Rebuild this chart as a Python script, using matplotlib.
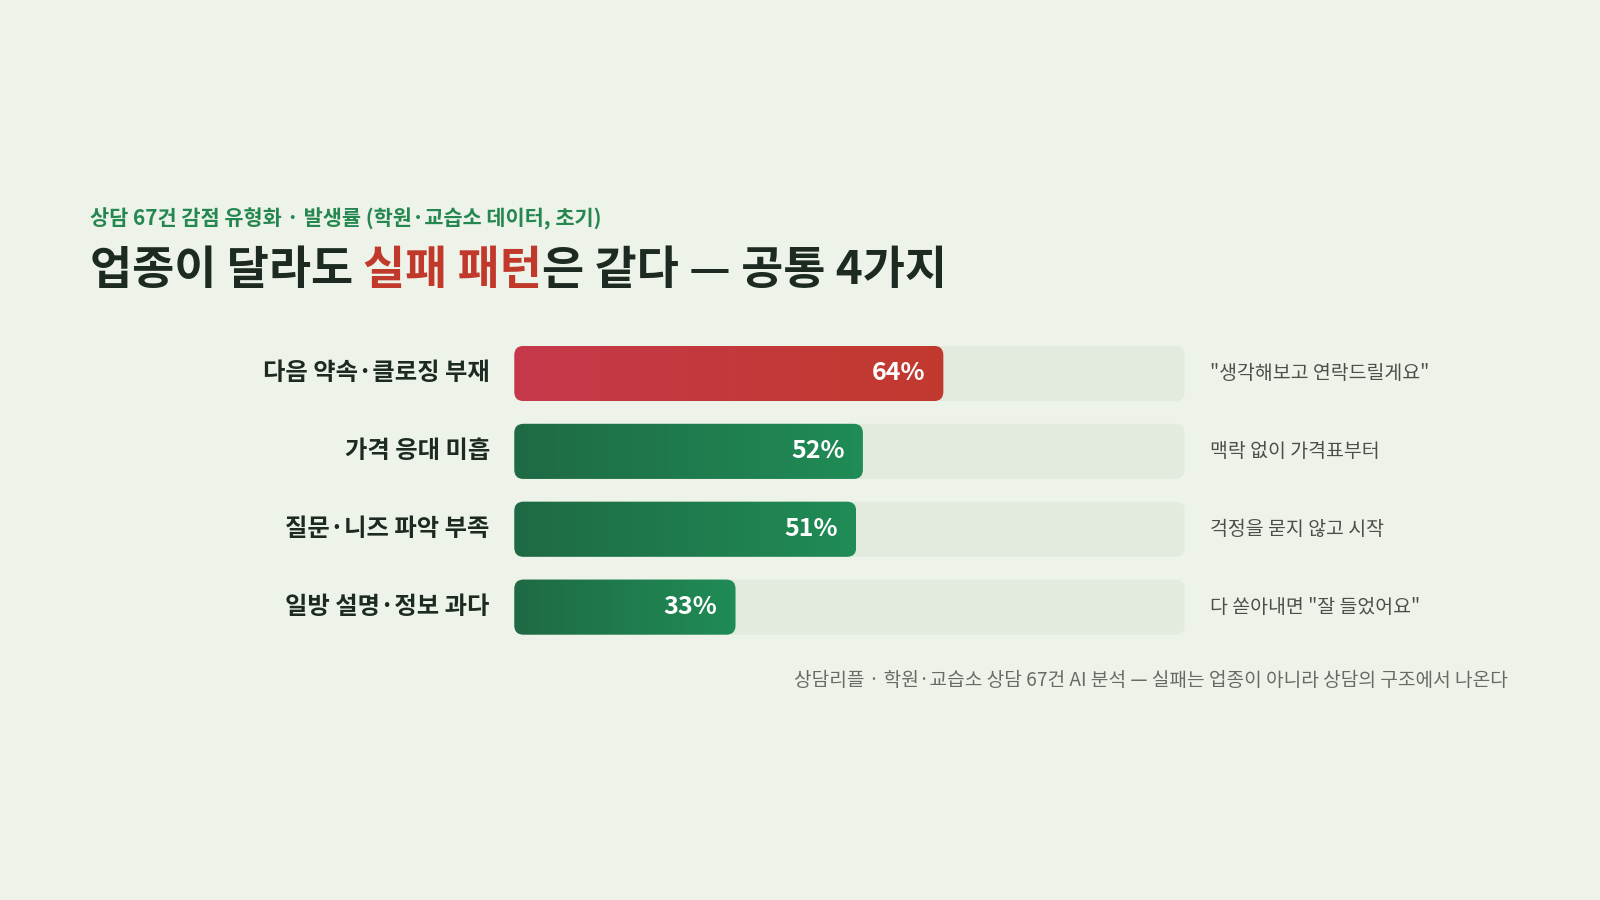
import numpy as np
import matplotlib.pyplot as plt
from matplotlib.patches import FancyBboxPatch
from matplotlib.colors import LinearSegmentedColormap

plt.rcParams['font.family'] = ['Noto Sans CJK KR', 'DejaVu Sans']

labels = ['다음 약속·클로징 부재', '가격 응대 미흡', '질문·니즈 파악 부족', '일방 설명·정보 과다']
values = [64, 52, 51, 33]
quotes = ['"생각해보고 연락드릴게요"', '맥락 없이 가격표부터', '걱정을 묻지 않고 시작', '다 쏟아내면 "잘 들었어요"']

bg = '#eef3ea'
W, H = 1568, 882
fig = plt.figure(figsize=(16, 9), dpi=100, facecolor=bg)

def fx(px): return px / W
def fy(py): return 1 - py / H

# header
fig.text(fx(88), fy(214), '상담 67건 감점 유형화 · 발생률 (학원·교습소 데이터, 초기)',
         color='#24874f', fontsize=15, fontweight='bold', va='center')
parts = [('업종이 달라도 ', '#1c2a22'), ('실패 패턴', '#c0392b'), ('은 같다 — 공통 4가지', '#1c2a22')]
fig.canvas.draw()
r = fig.canvas.get_renderer()
x = fx(88)
for s, c in parts:
    t = fig.text(x, fy(266), s, color=c, fontsize=33, fontweight='bold', va='center')
    bb = t.get_window_extent(r)
    x += bb.width / fig.bbox.width

# bars
x0, x1, ytop, ybot = 504, 1161, 339, 622
ax = fig.add_axes([fx(x0), fy(ybot), fx(x1 - x0), (ybot - ytop) / H])
ax.set_xlim(0, 100)
n = len(values)
bh = 0.708
ax.set_ylim(n - 1 + bh / 2, -bh / 2)
ax.axis('off')
xu = 100 / (x1 - x0)
yu = (n - 1 + bh) / (ybot - ytop)
rad = 9 * xu
asp = yu / xu

red = LinearSegmentedColormap.from_list('r', ['#c6384b', '#c13a2e'])
green = LinearSegmentedColormap.from_list('g', ['#1e6a44', '#208c56'])
grad = np.linspace(0, 1, 256).reshape(1, -1)

for i, (lab, v, q) in enumerate(zip(labels, values, quotes)):
    track = FancyBboxPatch((0, i - bh / 2), 100, bh, boxstyle=f'round,pad=0,rounding_size={rad}',
                           mutation_aspect=asp, fc='#e3ebdf', ec='none')
    ax.add_patch(track)
    bar = FancyBboxPatch((0, i - bh / 2), v, bh, boxstyle=f'round,pad=0,rounding_size={rad}',
                         mutation_aspect=asp, fc='none', ec='none')
    ax.add_patch(bar)
    im = ax.imshow(grad, cmap=red if i == 0 else green, aspect='auto',
                   extent=(0, v, i + bh / 2, i - bh / 2), zorder=2)
    im.set_clip_path(bar)
    ax.text(v - 18 * xu, i, f'{v}%', color='white', fontsize=18, fontweight='bold',
            ha='right', va='center', zorder=3)
    ax.text(-24 * xu, i, lab, color='#1c2a22', fontsize=17.5, fontweight='bold',
            ha='right', va='center')
    ax.text(100 + 25 * xu, i, q, color='#4a4f4c', fontsize=14, ha='left', va='center')

fig.text(fx(1478), fy(667), '상담리플 · 학원·교습소 상담 67건 AI 분석 — 실패는 업종이 아니라 상담의 구조에서 나온다',
         color='#666b67', fontsize=13.8, ha='right', va='center')

fig.savefig('out.png', facecolor=bg)
